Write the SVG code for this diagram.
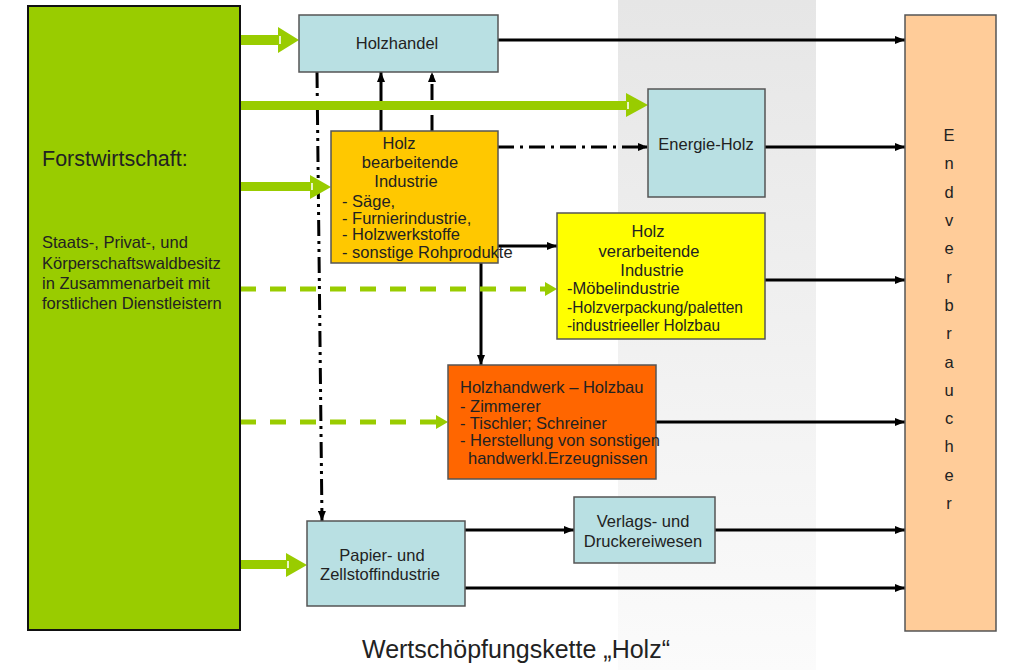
<svg xmlns="http://www.w3.org/2000/svg" width="1013" height="670" viewBox="0 0 1013 670">
<defs>
<linearGradient id="band" x1="0" y1="0" x2="0" y2="1">
<stop offset="0" stop-color="#e6e6e6"/>
<stop offset="1" stop-color="#fbfbfb"/>
</linearGradient>
<marker id="ah" markerWidth="10" markerHeight="8" refX="10" refY="4" orient="auto" markerUnits="userSpaceOnUse">
<path d="M0,0 L10,4 L0,8 Z" fill="#000"/>
</marker>
</defs>
<style>
.t{font-family:"Liberation Sans",Arial,sans-serif;fill:#222;font-size:16.5px}
.c{text-anchor:middle}
.big{font-size:21.5px}
.title{font-size:25px}
.ev{font-size:16.5px}
.box{stroke:#555;stroke-width:1.5}
.blk{stroke:#000;stroke-width:3;fill:none}
.dd{stroke-dasharray:16 6 3 6}
.ddd{stroke-dasharray:16 5 3 5 3 5}
.gd{stroke:#99cc00;stroke-width:5;fill:none;stroke-dasharray:16 14}
.g{fill:#99cc00}
.n{fill:#e8f5c8}
</style>
<rect width="1013" height="670" fill="#fff"/>
<rect x="618" y="0" width="198" height="670" fill="url(#band)"/>

<g id="connectors">
<line class="blk" x1="498" y1="40" x2="905" y2="40" marker-end="url(#ah)"/>
<line class="blk" x1="765" y1="147" x2="905" y2="147" marker-end="url(#ah)"/>
<line class="blk" x1="765" y1="280" x2="905" y2="280" marker-end="url(#ah)"/>
<line class="blk" x1="656" y1="422" x2="905" y2="422" marker-end="url(#ah)"/>
<line class="blk" x1="715" y1="530" x2="905" y2="530" marker-end="url(#ah)"/>
<line class="blk" x1="465" y1="588" x2="905" y2="588" marker-end="url(#ah)"/>
<line class="blk" x1="465" y1="530" x2="574" y2="530" marker-end="url(#ah)"/>
<line class="blk" x1="498" y1="246" x2="557" y2="246" marker-end="url(#ah)"/>
<line class="blk" x1="481" y1="263" x2="481" y2="365" marker-end="url(#ah)"/>
<line class="blk" x1="381" y1="131" x2="381" y2="72" marker-end="url(#ah)"/>
<line class="blk dd" x1="432" y1="131" x2="432" y2="72" marker-end="url(#ah)"/>
<line class="blk dd" stroke-width="4" x1="498" y1="147" x2="648" y2="147" marker-end="url(#ah)"/>
<line class="blk ddd" stroke-width="3.5" x1="317" y1="72" x2="322" y2="521" marker-end="url(#ah)"/>
<!-- green arrows -->
<rect class="g" x="240" y="35" width="38" height="10"/>
<polygon class="g" points="278,27 299,40 278,53"/>
<rect class="n" x="279" y="36" width="2" height="8"/>
<rect class="g" x="240" y="101" width="386" height="9"/>
<polygon class="g" points="626,93 648,105 626,117"/>
<rect class="n" x="627" y="102" width="2" height="7"/>
<rect class="g" x="240" y="182" width="70" height="9"/>
<polygon class="g" points="310,175 331,187 310,199"/>
<rect class="n" x="311" y="183" width="2" height="7"/>
<rect class="g" x="240" y="560" width="46" height="9"/>
<polygon class="g" points="286,553 307,565 286,577"/>
<rect class="n" x="287" y="561" width="2" height="7"/>
<line class="gd" x1="240" y1="289" x2="545" y2="289"/>
<polygon class="g" points="545,282 557,289 545,296"/>
<line class="gd" x1="240" y1="422" x2="436" y2="422"/>
<polygon class="g" points="436,415 448,422 436,429"/>
</g>

<g id="forstwirtschaft">
<rect x="28" y="6" width="212" height="624" fill="#99cc00" stroke="#111" stroke-width="2"/>
<text class="t big" x="42" y="166">Forstwirtschaft:</text>
<text class="t" x="42" y="248">Staats-, Privat-, und</text>
<text class="t" x="42" y="269">Körperschaftswaldbesitz</text>
<text class="t" x="42" y="289">in Zusammenarbeit  mit</text>
<text class="t" x="42" y="309">forstlichen  Dienstleistern</text>
</g>

<g id="holzhandel">
<rect class="box" x="299" y="15" width="199" height="57" fill="#b9e0e3"/>
<text class="t c" x="397" y="49">Holzhandel</text>
</g>

<g id="energieholz">
<rect class="box" x="648" y="89" width="117" height="108" fill="#b9e0e3"/>
<text class="t c" x="706" y="150">Energie-Holz</text>
</g>

<g id="bearbeitende">
<rect class="box" x="331" y="131" width="167" height="132" fill="#ffc800"/>
<text class="t c" x="399" y="149">Holz</text>
<text class="t c" x="410" y="168">bearbeitende</text>
<text class="t c" x="406" y="187">Industrie</text>
<text class="t" x="342" y="207">- Säge,</text>
<text class="t" x="342" y="224">- Furnierindustrie,</text>
<text class="t" x="342" y="240">- Holzwerkstoffe</text>
<text class="t" x="342" y="258">- sonstige  Rohprodukte</text>
</g>

<g id="verarbeitende">
<rect class="box" x="557" y="213" width="208" height="126" fill="#ffff00"/>
<text class="t c" x="648" y="237">Holz</text>
<text class="t c" x="649" y="257">verarbeitende</text>
<text class="t c" x="652" y="276">Industrie</text>
<text class="t" x="567" y="294">-Möbelindustrie</text>
<text class="t" x="567" y="313" textLength="176" lengthAdjust="spacingAndGlyphs">-Holzverpackung/paletten</text>
<text class="t" x="567" y="331" textLength="153" lengthAdjust="spacingAndGlyphs">-industrieeller Holzbau</text>
</g>

<g id="holzhandwerk">
<rect class="box" x="448" y="365" width="208" height="114" fill="#ff6600"/>
<text class="t" x="460" y="393">Holzhandwerk  – Holzbau</text>
<text class="t" x="460" y="412">- Zimmerer</text>
<text class="t" x="460" y="429">- Tischler; Schreiner</text>
<text class="t" x="460" y="446">- Herstellung  von  sonstigen</text>
<text class="t" x="468" y="464">handwerkl.Erzeugnissen</text>
</g>

<g id="verlags">
<rect class="box" x="574" y="497" width="141" height="66" fill="#b9e0e3"/>
<text class="t c" x="643" y="527">Verlags- und</text>
<text class="t c" x="643" y="547">Druckereiwesen</text>
</g>

<g id="papier">
<rect class="box" x="307" y="521" width="158" height="85" fill="#b9e0e3"/>
<text class="t c" x="382" y="561">Papier- und</text>
<text class="t c" x="380" y="580">Zellstoffindustrie</text>
</g>

<g id="endverbraucher">
<rect class="box" x="905" y="15" width="91" height="616" fill="#ffcc99"/>
<text class="t c ev" x="949" y="141">E</text>
<text class="t c ev" x="949" y="169">n</text>
<text class="t c ev" x="949" y="198">d</text>
<text class="t c ev" x="949" y="226">v</text>
<text class="t c ev" x="949" y="254">e</text>
<text class="t c ev" x="949" y="283">r</text>
<text class="t c ev" x="949" y="311">b</text>
<text class="t c ev" x="949" y="339">r</text>
<text class="t c ev" x="949" y="368">a</text>
<text class="t c ev" x="949" y="396">u</text>
<text class="t c ev" x="949" y="424">c</text>
<text class="t c ev" x="949" y="452">h</text>
<text class="t c ev" x="949" y="481">e</text>
<text class="t c ev" x="949" y="509">r</text>
</g>

<text class="t c title" x="516" y="658">Wertschöpfungskette „Holz“</text>
</svg>
